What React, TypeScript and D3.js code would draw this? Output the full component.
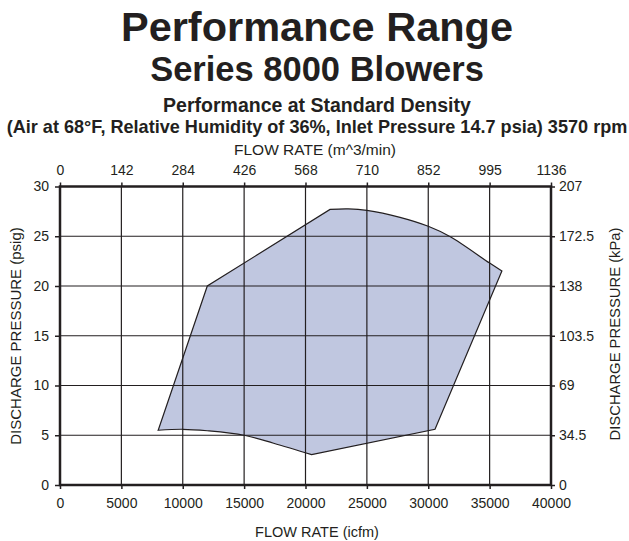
import React, { useRef, useEffect } from "react";
import * as d3 from "d3";

// flow rate ticks (icfm) and matching metric labels (m^3/min)
const flowTicks = [0, 5000, 10000, 15000, 20000, 25000, 30000, 35000, 40000];
const flowMetricLabels = ["0", "142", "284", "426", "568", "710", "852", "995", "1136"];

// pressure ticks (psig) and matching metric labels (kPa)
const pressureTicks = [0, 5, 10, 15, 20, 25, 30];
const pressureMetricLabels = ["0", "34.5", "69", "103.5", "138", "172.5", "207"];

// outline of the performance envelope: [icfm, psig]
const leftEdge: [number, number][] = [
	[8000, 5.5],
	[12000, 20],
	[22000, 27.7],
];
const topCurve: [number, number][] = [
	[22000, 27.7],
	[23500, 27.75],
	[25000, 27.6],
	[27700, 26.9],
	[30000, 26.0],
	[31800, 24.95],
	[35000, 22.3],
	[36000, 21.5],
];
const rightEdge: [number, number][] = [
	[36000, 21.5],
	[30550, 5.6],
	[20500, 3.05],
];
const bottomCurve: [number, number][] = [
	[20500, 3.05],
	[17400, 4.2],
	[15000, 5.0],
	[12000, 5.45],
	[10000, 5.6],
	[8000, 5.5],
];

const W = 629;
const H = 541;
const FONT = "'Liberation Sans', Arial, Helvetica, sans-serif";
const INK = "#231f20";

const Chart: React.FC = () => {
	const svgRef = useRef<SVGSVGElement | null>(null);

	useEffect(() => {
		if (!svgRef.current) return;
		const svg = d3.select(svgRef.current);
		svg.selectAll("*").remove();

		const left = 60;
		const right = 551;
		const top = 186.5;
		const bottom = 485;

		const x = d3.scaleLinear().domain([0, 40000]).range([left, right]);
		const y = d3.scaleLinear().domain([0, 30]).range([bottom, top]);

		// titles
		const cx = 317;
		const titles = [
			{ t: "Performance Range", size: 41.5, yy: 41 },
			{ t: "Series 8000 Blowers", size: 34.5, yy: 81 },
			{ t: "Performance at Standard Density", size: 19.5, yy: 112 },
			{
				t: "(Air at 68°F, Relative Humidity of 36%, Inlet Pressure 14.7 psia) 3570 rpm",
				size: 18.1,
				yy: 133,
			},
		];
		titles.forEach((d) => {
			svg
				.append("text")
				.attr("x", cx)
				.attr("y", d.yy)
				.attr("text-anchor", "middle")
				.attr("font-family", FONT)
				.attr("font-weight", "bold")
				.attr("font-size", d.size)
				.attr("fill", INK)
				.text(d.t);
		});

		// envelope
		const straight = d3
			.line<[number, number]>()
			.x((d) => x(d[0]))
			.y((d) => y(d[1]));
		const smooth = d3
			.line<[number, number]>()
			.x((d) => x(d[0]))
			.y((d) => y(d[1]))
			.curve(d3.curveCatmullRom.alpha(0.5));
		const join = (p: string | null) => (p || "").replace(/^M/, "L");
		const pathD =
			(straight(leftEdge) || "") +
			join(smooth(topCurve)) +
			join(straight(rightEdge)) +
			join(smooth(bottomCurve)) +
			"Z";
		svg
			.append("path")
			.attr("d", pathD)
			.attr("fill", "#c0c7e0")
			.attr("stroke", INK)
			.attr("stroke-width", 1.2)
			.attr("stroke-linejoin", "miter");

		// grid lines sit over the fill
		const grid = svg.append("g").attr("stroke", INK).attr("stroke-width", 1.2);
		grid
			.selectAll("line.v")
			.data(flowTicks.slice(1, -1))
			.enter()
			.append("line")
			.attr("x1", (d) => x(d))
			.attr("x2", (d) => x(d))
			.attr("y1", top)
			.attr("y2", bottom);
		grid
			.selectAll("line.h")
			.data(pressureTicks.slice(1, -1))
			.enter()
			.append("line")
			.attr("x1", left)
			.attr("x2", right)
			.attr("y1", (d) => y(d))
			.attr("y2", (d) => y(d));

		// frame
		svg
			.append("rect")
			.attr("x", left)
			.attr("y", top)
			.attr("width", right - left)
			.attr("height", bottom - top)
			.attr("fill", "none")
			.attr("stroke", INK)
			.attr("stroke-width", 2.5);

		const styleAxis = (g: d3.Selection<SVGGElement, unknown, null, undefined>) => {
			g.select(".domain").remove();
			g.selectAll(".tick line").attr("stroke", INK).attr("stroke-width", 1.5);
			g.selectAll(".tick text")
				.attr("font-family", FONT)
				.attr("font-size", 14)
				.attr("fill", INK);
		};

		// bottom axis (icfm)
		svg
			.append("g")
			.attr("transform", `translate(0,${bottom})`)
			.call(
				d3
					.axisBottom(x)
					.tickValues(flowTicks)
					.tickFormat((d) => String(d))
					.tickSize(4)
					.tickPadding(9)
			)
			.call(styleAxis);

		// top axis (m^3/min)
		svg
			.append("g")
			.attr("transform", `translate(0,${top})`)
			.call(
				d3
					.axisTop(x)
					.tickValues(flowTicks)
					.tickFormat((_, i) => flowMetricLabels[i])
					.tickSize(4)
					.tickPadding(8)
			)
			.call(styleAxis);

		// left axis (psig)
		svg
			.append("g")
			.attr("transform", `translate(${left},0)`)
			.call(
				d3
					.axisLeft(y)
					.tickValues(pressureTicks)
					.tickFormat((d) => String(d))
					.tickSize(5)
					.tickPadding(6)
			)
			.call(styleAxis);

		// right axis (kPa)
		svg
			.append("g")
			.attr("transform", `translate(${right},0)`)
			.call(
				d3
					.axisRight(y)
					.tickValues(pressureTicks)
					.tickFormat((_, i) => pressureMetricLabels[i])
					.tickSize(4)
					.tickPadding(4)
			)
			.call(styleAxis);

		// axis titles
		const axisTitle = (t: string, tx: number, ty: number, rot: number, size: number) => {
			svg
				.append("text")
				.attr("transform", `translate(${tx},${ty}) rotate(${rot})`)
				.attr("text-anchor", "middle")
				.attr("font-family", FONT)
				.attr("font-size", size)
				.attr("fill", INK)
				.text(t);
		};
		axisTitle("FLOW RATE (m^3/min)", 315, 155, 0, 15.5);
		axisTitle("FLOW RATE (icfm)", cx, 537, 0, 14.5);
		axisTitle("DISCHARGE PRESSURE (psig)", 21, 336, -90, 15);
		axisTitle("DISCHARGE PRESSURE (kPa)", 620, 334, -90, 14.8);
	}, []);

	return (
		<svg
			ref={svgRef}
			width={W}
			height={H}
			style={{ position: "absolute", left: 0, top: 0, background: "#fff" }}
		/>
	);
};

export default function App() {
	return <Chart />;
}
